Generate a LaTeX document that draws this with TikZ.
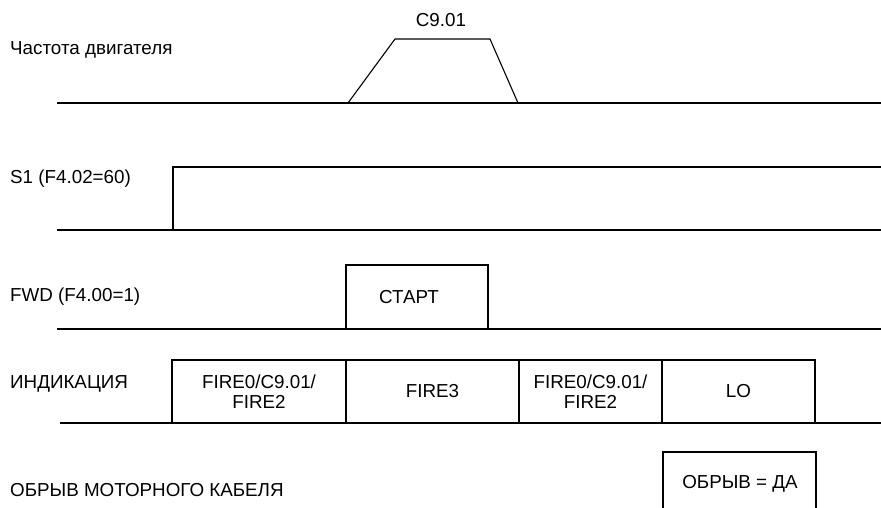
\documentclass[tikz,border=0pt]{standalone}
\usepackage{fontspec}
\setmainfont{Liberation Sans}
\begin{document}
\begin{tikzpicture}[x=1pt,y=-1pt]
			% Styles (MODIFIABLES)
			\tikzstyle{trait}=[-,line width=1.1pt,line join=miter]
			\tikzstyle{nom}=[anchor=west,inner sep=0pt,font=\fontsize{18.8}{20.5}\selectfont]
			\tikzstyle{texte}=[inner sep=0pt,align=center,font=\fontsize{18.8}{20.5}\selectfont]
			\tikzstyle{boite}=[draw,line width=1.1pt,inner sep=0pt,align=center,minimum height=63pt,font=\fontsize{18.8}{20.5}\selectfont]
			% Dimensions (MODIFIABLES)
			\def\Gauche{57}
			\def\Droite{881}
			\useasboundingbox (0,0) rectangle (881,508);
			% Noms des signaux
			\node[nom] (Nfreq) at (10,50) {Частота двигателя};
			\node[nom] (Ns) at (10,179) {S1 (F4.02=60)};
			\node[nom] (Nfwd) at (10,297) {FWD (F4.00=1)};
			\node[nom] (Nind) at (10,384) {ИНДИКАЦИЯ};
			\node[nom] (Nobr) at (10,490) {ОБРЫВ МОТОРНОГО КАБЕЛЯ};
			% Frequence moteur
			\coordinate (Fa) at (\Gauche,103);
			\coordinate (Fb) at (348,103);
			\coordinate (Fc) at (395,39);
			\coordinate (Fd) at (490,39);
			\coordinate (Fe) at (518,103);
			\coordinate (Ff) at (\Droite,103);
			\node[texte] (Fval) at (441,20) {C9.01};
			\draw[trait] (Fa)--(Ff);
			\draw[trait] (Fb)--(Fc)--(Fd)--(Fe);
			% S1
			\coordinate (Sa) at (\Gauche,230);
			\coordinate (Sb) at (173,230);
			\coordinate (Sc) at (173,167);
			\coordinate (Sd) at (\Droite,167);
			\coordinate (Se) at (\Droite,230);
			\draw[trait] (Sa)--(Se);
			\draw[trait] (Sb)--(Sc)--(Sd);
			% FWD
			\coordinate (Wa) at (\Gauche,329);
			\coordinate (Wb) at (\Droite,329);
			\draw[trait] (Wa)--(Wb);
			\node[boite,minimum width=142pt,minimum height=64pt] (Start) at (417,297) {СТАРТ\hspace*{16pt}};
			% Indication
			\coordinate (Ia) at (60,423);
			\coordinate (Ib) at (\Droite,423);
			\draw[trait] (Ia)--(Ib);
			\node[boite,minimum width=174pt] (Ia1) at (259,391.5) {FIRE0/C9.01/\\FIRE2};
			\node[boite,minimum width=173pt] (Ia2) at (432.5,391.5) {FIRE3};
			\node[boite,minimum width=143pt] (Ia3) at (590.5,391.5) {FIRE0/C9.01/\\FIRE2};
			\node[boite,minimum width=153pt] (Ia4) at (738.5,391.5) {LO};
			% Obrыv
			\coordinate (Oa) at (663,508);
			\coordinate (Ob) at (663,452);
			\coordinate (Oc) at (816,452);
			\coordinate (Od) at (816,508);
			\node[texte] (Oval) at (740,484) {ОБРЫВ = ДА};
			\draw[trait] (Oa)--(Ob)--(Oc)--(Od);
\end{tikzpicture}
\end{document}
